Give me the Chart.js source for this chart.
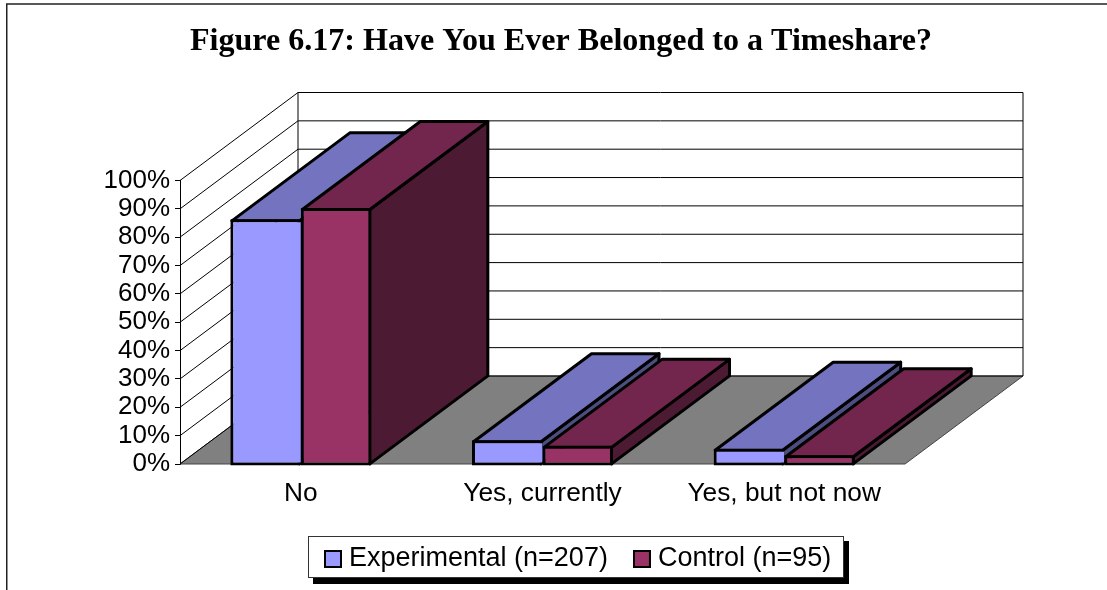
<!DOCTYPE html>
<html>
<head>
<meta charset="utf-8">
<style>html,body{margin:0;padding:0;background:#fff;overflow:hidden}#wrap{width:1107px;height:590px;position:relative}</style>
<script src="https://cdn.jsdelivr.net/npm/chart.js@4"></script>
</head>
<body>
<div id="wrap"><canvas id="c" width="1107" height="590"></canvas></div>
<script>
const chartTitle = 'Figure 6.17: Have You Ever Belonged to a Timeshare?';
const categories = ['No', 'Yes, currently', 'Yes, but not now'];
const experimentalLabel = 'Experimental (n=207)';
const controlLabel = 'Control (n=95)';
const experimentalValues = [86.3, 8.4, 5.4];
const controlValues = [90.3, 6.4, 3.1];

const DEPTH_X = 118, DEPTH_Y = -88;
const AREA = {left: 180, right: 905, top: 180.5, bottom: 464};
const TITLE_SIZE = 32.1, Y_SIZE = 26, X_SIZE = 26.3, LEGEND_SIZE = 27;
const EDGE = 3;

const faces = [
  {front: '#9999FF', top: '#7373BF', side: '#4D4D80'},
  {front: '#993366', top: '#73264D', side: '#4D1A33'}
];

function swatch(color) {
  const cv = document.createElement('canvas');
  cv.width = 18; cv.height = 18;
  const g = cv.getContext('2d');
  g.fillStyle = color; g.fillRect(0, 0, 18, 18);
  g.strokeStyle = '#000'; g.lineWidth = 2; g.strokeRect(1, 1, 16, 16);
  return cv;
}
const swatches = faces.map(f => swatch(f.front));

function poly(ctx, pts, fill, stroke, lw) {
  ctx.beginPath();
  pts.forEach((p, i) => i ? ctx.lineTo(p[0], p[1]) : ctx.moveTo(p[0], p[1]));
  ctx.closePath();
  if (fill) { ctx.fillStyle = fill; ctx.fill(); }
  if (stroke) { ctx.strokeStyle = stroke; ctx.lineWidth = lw; ctx.lineJoin = 'round'; ctx.stroke(); }
}

const scene3d = {
  id: 'scene3d',
  afterLayout(chart) {
    const t = chart.titleBlock;
    const h = TITLE_SIZE * 1.2;
    t.left = 0; t.right = 1122; t.top = 42 - h / 2; t.bottom = 42 + h / 2;
    const l = chart.legend;
    l.left = 299; l.right = 1000; l.top = 514; l.bottom = 578;
  },
  beforeDraw(chart) {
    const ctx = chart.ctx;
    ctx.save();
    ctx.fillStyle = '#fff'; ctx.fillRect(0, 0, chart.width, chart.height);
    // outer frame
    ctx.strokeStyle = '#222'; ctx.lineWidth = 1.5;
    ctx.beginPath(); ctx.moveTo(6.75, 590); ctx.lineTo(6.75, 4); ctx.lineTo(1107, 4); ctx.stroke();
    // legend box with shadow
    ctx.fillStyle = '#000'; ctx.fillRect(313, 541, 536, 43);
    ctx.fillStyle = '#fff'; ctx.fillRect(308, 536, 536, 42);
    ctx.strokeStyle = '#333'; ctx.lineWidth = 1; ctx.strokeRect(308.5, 536.5, 535, 41);
    ctx.restore();
  },
  beforeDatasetsDraw(chart) {
    const ctx = chart.ctx, y = chart.scales.y, a = chart.chartArea;
    const L = a.left, R = a.right, B = a.bottom;
    ctx.save();
    // floor
    poly(ctx, [[L, B], [R, B], [R + DEPTH_X, B + DEPTH_Y], [L + DEPTH_X, B + DEPTH_Y]], '#808080', '#444', 1);
    // walls and gridlines
    ctx.strokeStyle = '#000'; ctx.lineWidth = 1;
    y.ticks.forEach(t => {
      const py = y.getPixelForValue(t.value);
      ctx.beginPath();
      ctx.moveTo(L, py); ctx.lineTo(L + DEPTH_X, py + DEPTH_Y); ctx.lineTo(R + DEPTH_X, py + DEPTH_Y);
      ctx.stroke();
    });
    const top = y.getPixelForValue(100), bot = y.getPixelForValue(0);
    ctx.beginPath();
    ctx.moveTo(L + DEPTH_X, top + DEPTH_Y); ctx.lineTo(L + DEPTH_X, bot + DEPTH_Y);
    ctx.moveTo(R + DEPTH_X, top + DEPTH_Y); ctx.lineTo(R + DEPTH_X, bot + DEPTH_Y);
    ctx.stroke();
    // bar depth faces: first series first, so the second overlaps it
    chart.data.datasets.forEach((ds, i) => {
      chart.getDatasetMeta(i).data.forEach(bar => {
        const e = EDGE / 2;
        const x0 = bar.x - bar.width / 2 + e, x1 = bar.x + bar.width / 2 - e;
        const yt = bar.y + e, yb = bar.base - e;
        poly(ctx, [[x1, yt], [x1 + DEPTH_X, yt + DEPTH_Y], [x1 + DEPTH_X, yb + DEPTH_Y], [x1, yb]], faces[i].side, '#000', EDGE);
        poly(ctx, [[x0, yt], [x0 + DEPTH_X, yt + DEPTH_Y], [x1 + DEPTH_X, yt + DEPTH_Y], [x1, yt]], faces[i].top, '#000', EDGE);
      });
    });
    ctx.restore();
  }
};

new Chart(document.getElementById('c'), {
  type: 'bar',
  data: {
    labels: categories,
    datasets: [
      {label: experimentalLabel, data: experimentalValues, backgroundColor: faces[0].front, borderColor: '#000',
       borderWidth: {top: EDGE, left: EDGE, bottom: EDGE, right: 0}, borderSkipped: false, base: -0.5, clip: false,
       barPercentage: 1, categoryPercentage: 141 / 241.67},
      {label: controlLabel, data: controlValues, backgroundColor: faces[1].front, borderColor: '#000',
       borderWidth: EDGE, borderSkipped: false, base: -0.5, clip: false,
       barPercentage: 1, categoryPercentage: 141 / 241.67}
    ]
  },
  plugins: [scene3d],
  options: {
    responsive: false,
    animation: false,
    devicePixelRatio: 1,
    layout: {padding: {left: 0, right: 1107 - AREA.right, top: AREA.top - TITLE_SIZE * 1.2, bottom: 0}},
    plugins: {
      title: {display: true, text: chartTitle, color: '#000', padding: 0,
        font: {family: '"Liberation Serif"', size: TITLE_SIZE, weight: 'bold', lineHeight: 1.2}},
      legend: {
        display: true, position: 'bottom', align: 'start',
        labels: {
          color: '#000', font: {family: '"Liberation Sans"', size: LEGEND_SIZE},
          usePointStyle: true, pointStyleWidth: 5, boxHeight: 18, padding: 31.5,
          generateLabels(chart) {
            return Chart.defaults.plugins.legend.labels.generateLabels(chart).map((it, i) => ({...it, pointStyle: swatches[i]}));
          }
        }
      },
      tooltip: {enabled: false}
    },
    scales: {
      x: {
        grid: {display: false}, border: {display: false},
        ticks: {color: '#000', font: {family: '"Liberation Sans"', size: X_SIZE}, padding: 6, maxRotation: 0, autoSkip: false},
        afterFit(s) { s.height = 590 - AREA.bottom - (s.chart.legend ? s.chart.legend.height : 0); }
      },
      y: {
        min: 0, max: 100,
        grid: {drawOnChartArea: false, drawTicks: true, tickLength: 5, color: '#000'},
        border: {display: true, color: '#000', width: 1},
        ticks: {stepSize: 10, autoSkip: false, color: '#000', padding: 5,
          font: {family: '"Liberation Sans"', size: Y_SIZE}, callback: v => v + '%'},
        afterFit(s) { s.width = AREA.left; }
      }
    }
  }
});
</script>
</body>
</html>
